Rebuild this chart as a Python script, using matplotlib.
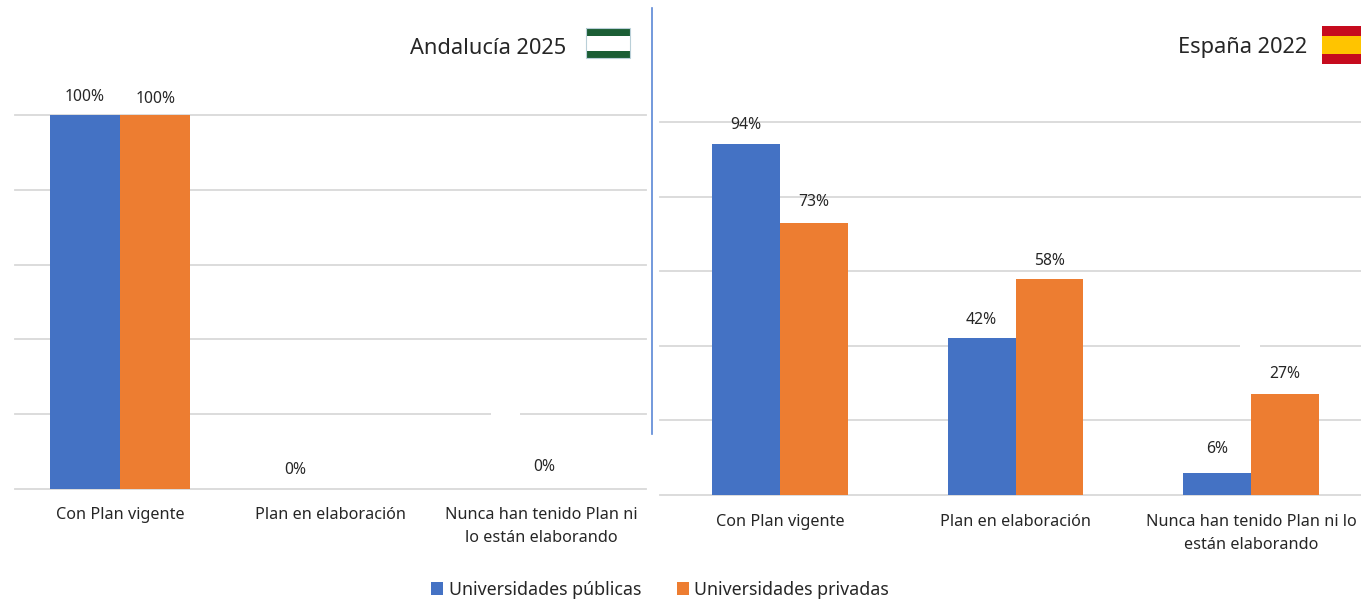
import matplotlib
matplotlib.use("Agg")
import matplotlib.pyplot as plt
from matplotlib.patches import Rectangle

plt.rcParams['font.family'] = ['Noto Sans', 'DejaVu Sans']

W, H = 1361, 603

categories_left = ["Con Plan vigente", "Plan en elaboración", "Nunca han tenido Plan ni\nlo están elaborando"]
categories_right = ["Con Plan vigente", "Plan en elaboración", "Nunca han tenido Plan ni lo\nestán elaborando"]

publicas_2025 = [100, 0, 0]
privadas_2025 = [100, 0, 0]
publicas_2022 = [94, 42, 6]
privadas_2022 = [73, 58, 27]

BLUE = "#4472c4"
ORANGE = "#ed7d31"
GRID = "#d9d9d9"
TEXT = "#262626"


def make_axes(x0, x1, y_top, y_base, pad):
    ax = fig.add_axes([x0 / W, 1 - y_base / H, (x1 - x0) / W, (y_base - y_top) / H])
    ax.set_ylim(0, 100)
    ax.set_yticks(range(0, 101, 20))
    ax.grid(axis="y", color=GRID, linewidth=1.3, clip_on=False)
    ax.set_axisbelow(True)
    for s in ax.spines.values():
        s.set_visible(False)
    ax.tick_params(length=0, labelleft=False, labelsize=11.7, labelcolor=TEXT, pad=pad)
    ax.patch.set_alpha(0)
    return ax


def draw_bars(ax, pub, priv, width, cats, pos_pub, pos_priv):
    xs = range(len(cats))
    b1 = ax.bar([x - width / 2 for x in xs], pub, width, color=BLUE, clip_on=False)
    b2 = ax.bar([x + width / 2 for x in xs], priv, width, color=ORANGE, clip_on=False)
    ax.set_xticks(list(xs))
    ax.set_xticklabels(cats, linespacing=1.55)
    for bars, vals, pos in zip((b1, b2), (pub, priv), (pos_pub, pos_priv)):
        for r, v, p in zip(bars, vals, pos):
            if p is None:
                continue
            ax.annotate(f"{v}%", (r.get_x() + r.get_width() / 2, v), xytext=p, textcoords="offset points",
                        ha="center", va="bottom", fontsize=11.3, color=TEXT, annotation_clip=False)
    return b1, b2


fig = plt.figure(figsize=(W / 100, H / 100), dpi=100, facecolor="white")

# izquierda
ax1 = make_axes(15, 646, 115, 489, 13)
ax1.set_xlim(-0.5, 2.5)
h = draw_bars(ax1, publicas_2025, privadas_2025, 0.333, categories_left,
              [(-0.5, 7.5), (-0.5, 8), (28, 10)], [(0, 5.5), None, None])

# derecha
ax2 = make_axes(660, 1361, 122, 495, 14)
ax2.set_xlim(-0.51, 2.467)
draw_bars(ax2, publicas_2022, privadas_2022, 0.288, categories_right,
          [(0, 8.5), (0, 7.7), (0, 11)], [(0, 9.5), (0, 7), (0, 8.5)])

# huecos de las etiquetas en la rejilla
fig.add_artist(Rectangle((491 / W, 1 - 417 / H), 29 / W, 8 / H, color="white", lw=0))
fig.add_artist(Rectangle((1240 / W, 1 - 350 / H), 20 / W, 8 / H, color="white", lw=0))

# separador
fig.add_artist(plt.Line2D([652 / W, 652 / W], [1 - 8 / H, 1 - 434 / H], color="#5b87d6", lw=1.2))

# titulos
fig.text(566 / W, 1 - 48 / H, "Andalucía 2025", ha="right", va="center", fontsize=15.7, color=TEXT)
fig.text(1307 / W, 1 - 48 / H, "España 2022", ha="right", va="center", fontsize=15.7, color=TEXT)

# banderas
for y0, y1, c in [(28, 36, "#1b5e35"), (36, 51, "#ffffff"), (51, 58, "#1b5e35")]:
    fig.add_artist(Rectangle((586 / W, 1 - y1 / H), 44 / W, (y1 - y0) / H, color=c, lw=0))
fig.add_artist(Rectangle((586 / W, 1 - 58 / H), 44 / W, 30 / H, fill=False, edgecolor="#b9cfd8", lw=0.8))
for y0, y1, c in [(26, 36, "#c60b1e"), (36, 54, "#ffc400"), (54, 64, "#c60b1e")]:
    fig.add_artist(Rectangle((1322 / W, 1 - y1 / H), 39 / W, (y1 - y0) / H, color=c, lw=0))

fig.legend(h, ["Universidades públicas", "Universidades privadas"], loc="center", bbox_to_anchor=(660 / W, 1 - 590 / H),
           ncol=2, frameon=False, fontsize=12.8, labelcolor=TEXT, handlelength=0.68, handleheight=0.72,
           handletextpad=0.3, columnspacing=2.0)

fig.savefig("out.png", dpi=100)
